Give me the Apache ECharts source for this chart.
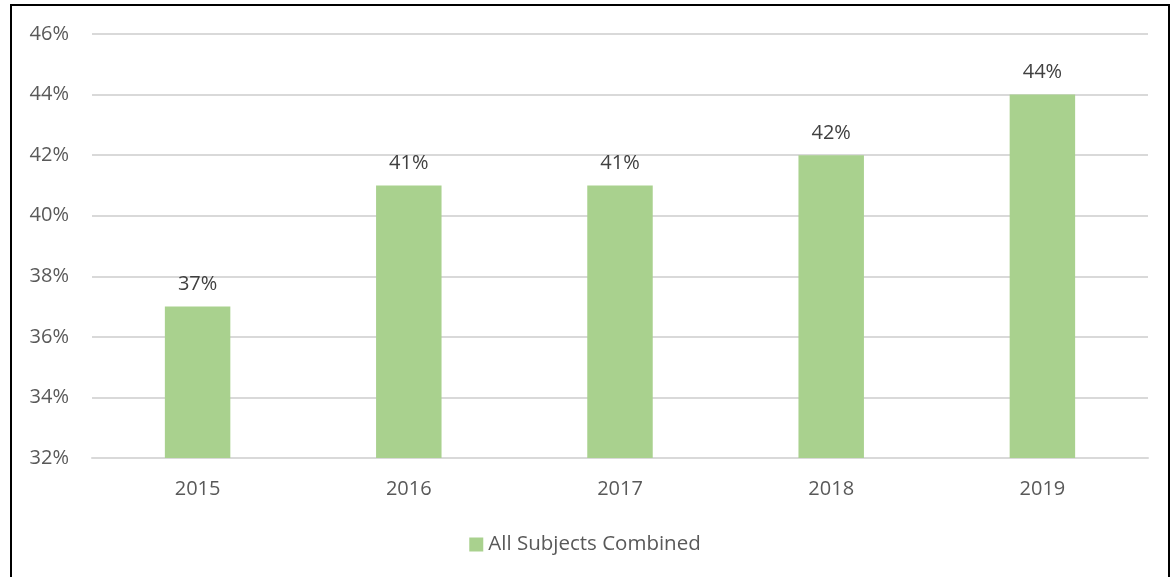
<!DOCTYPE html>
<html>
<head>
<meta charset="utf-8">
<script src="https://cdn.jsdelivr.net/npm/echarts@6/dist/echarts.min.js"></script>
<style>
html,body{margin:0;padding:0;background:#fff;}
#chart{position:absolute;left:0;top:0;width:1170px;height:577px;}
#frame{position:absolute;left:10px;top:4px;width:1156px;height:600px;border:2px solid #000;pointer-events:none;}
</style>
</head>
<body>
<div id="chart"></div>
<div id="frame"></div>
<script>
const categories = ['2015', '2016', '2017', '2018', '2019'];
const seriesName = 'All Subjects Combined';
const values = [37, 41, 41, 42, 44];
const yTicks = { min: 32, max: 46, interval: 2 };

const font = '"Open Sans", "Liberation Sans", sans-serif';
const chart = echarts.init(document.getElementById('chart'), null, { renderer: 'canvas' });
chart.setOption({
  animation: false,
  backgroundColor: '#fff',
  grid: { left: 92, right: 22, top: 34, bottom: 119 },
  legend: {
    bottom: 17,
    left: 'center',
    itemWidth: 14,
    itemHeight: 14,
    itemGap: 8,
    icon: 'rect',
    textStyle: { color: '#595959', fontSize: 20.5, fontFamily: font },
    data: [seriesName]
  },
  xAxis: {
    type: 'category',
    data: categories,
    axisLine: { show: true, lineStyle: { color: '#d9d9d9', width: 2 } },
    axisTick: { show: false },
    axisLabel: { color: '#595959', fontSize: 20, fontFamily: font, margin: 21 }
  },
  yAxis: {
    type: 'value',
    min: yTicks.min,
    max: yTicks.max,
    interval: yTicks.interval,
    axisLine: { show: false },
    axisTick: { show: false },
    splitLine: { lineStyle: { color: '#d9d9d9', width: 2 } },
    axisLabel: { color: '#595959', fontSize: 20, fontFamily: font, margin: 23, formatter: v => v + '%' }
  },
  series: [{
    name: seriesName,
    type: 'bar',
    data: values,
    barWidth: '31%',
    itemStyle: { color: '#a9d18e' },
    label: {
      show: true,
      position: 'top',
      distance: 12,
      color: '#404040',
      fontSize: 20,
      fontFamily: font,
      formatter: p => p.value + '%'
    }
  }]
});
</script>
</body>
</html>
